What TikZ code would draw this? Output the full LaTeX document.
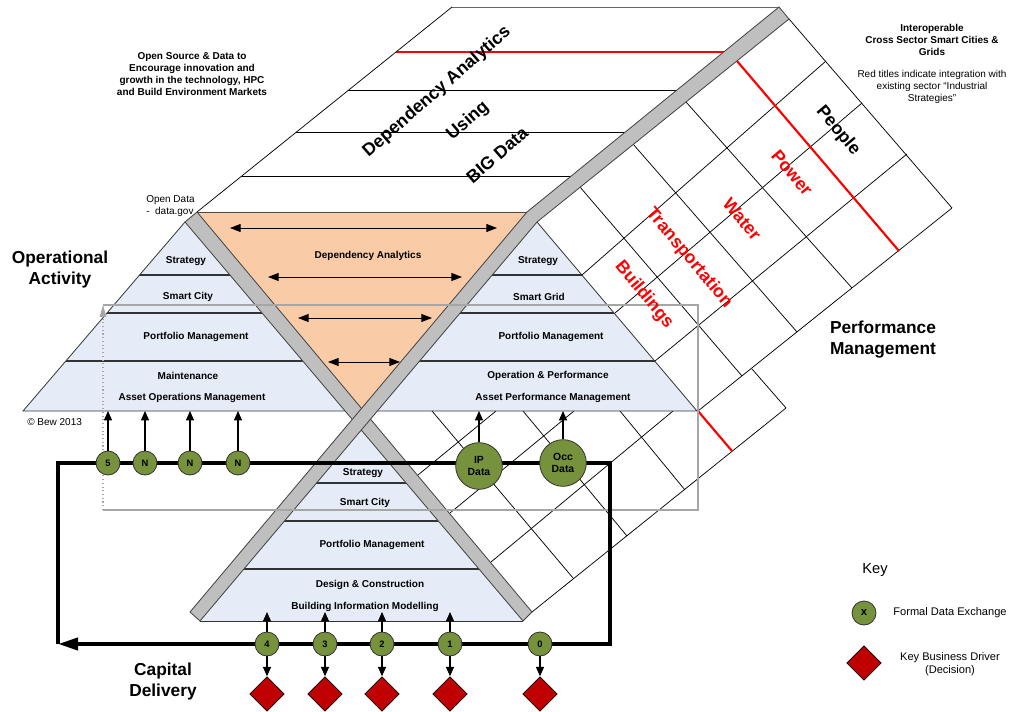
\documentclass[tikz,border=0pt]{standalone}
\usepackage{fontspec}
\setmainfont{Liberation Sans}
\usetikzlibrary{arrows.meta,shapes.geometric}
\definecolor{pyr}{HTML}{E5ECF7}
\definecolor{orng}{HTML}{F9CBA6}
\definecolor{olivec}{HTML}{76923C}
\definecolor{diamred}{HTML}{C00000}
\definecolor{bandgray}{HTML}{BFBFBF}
\definecolor{rectgray}{HTML}{A6A6A6}
\definecolor{redc}{HTML}{FF0000}
\begin{document}
\begin{tikzpicture}[x=0.75pt,y=-0.75pt,
 gl/.style={line width=0.55pt, black},
 redl/.style={line width=1.6pt, redc},
 div/.style={line width=0.8pt, black!80},
 pout/.style={line width=0.6pt, black!80},
 band/.style={fill=bandgray, draw=black!75, line width=0.6pt},
 lab/.style={font=\bfseries\fontsize{7.5}{9}\selectfont, inner sep=0pt},
 bigtxt/.style={font=\bfseries\fontsize{13}{15.75}\selectfont, align=center},
 rot/.style={font=\bfseries\fontsize{13.3}{16}\selectfont, inner sep=0pt},
 smallb/.style={font=\bfseries\fontsize{7.5}{8.8}\selectfont, align=center},
 smallr/.style={font=\fontsize{7.5}{8.8}\selectfont, align=center},
 dxc/.style={circle, fill=olivec, draw=black!80, line width=0.6pt, minimum size=18pt, inner sep=0pt, font=\bfseries\fontsize{7}{8}\selectfont},
 bigdxc/.style={dxc, minimum size=35pt, font=\bfseries\fontsize{7.8}{9}\selectfont, align=center},
 dia/.style={diamond, fill=diamred, draw=black, line width=0.6pt, minimum width=26pt, minimum height=26pt, inner sep=0pt},
 arr/.style={line width=0.9pt, -{Triangle[length=7pt,width=6pt]}},
 darr/.style={line width=0.7pt, {Triangle[length=8pt,width=6pt]}-{Triangle[length=8pt,width=6pt]}},
 loopln/.style={line width=3pt, line join=miter},
 rectg/.style={draw=rectgray, line width=0.8pt}]
\useasboundingbox (0,0) rectangle (1013,712);

% ---------- top parallelogram (Big Data) ----------
\fill[white] (452,7) -- (779,7) -- (527,212) -- (197,212) -- cycle;
\begin{scope}
\clip (452,7) -- (779,7) -- (527,212) -- (197,212) -- cycle;
\draw[gl] (150,90) -- (800,90);
\draw[gl] (150,132) -- (800,132);
\draw[gl] (150,176) -- (800,176);
\draw[redl] (150,52) -- (800,52);
\end{scope}
\draw[line width=0.6pt, black!60] (452,7) -- (779,7);
\draw[gl] (452,7) -- (197,212);

% ---------- grid (performance management) ----------
\draw[gl] (789,19) -- (952,208);
\draw[gl] (582,275) -- (826,61);
\draw[gl] (615,313) -- (862,103);
\draw[gl] (655,361) -- (907,154);
\draw[gl] (698,411) -- (952,208);
\draw[gl] (686,102) -- (852,288);
\draw[gl] (633,144) -- (797,332);
\draw[gl] (580,187) -- (742,376);
% lower part
\draw[gl] (532,612) -- (786,408);
\draw[gl] (491,562) -- (673,411);
\draw[gl] (450,513) -- (574,411);
\draw[gl] (418,475) -- (496,411);
\draw[gl] (432,411) -- (573,578);
\draw[gl] (523,411) -- (627,536);
\draw[gl] (620,411) -- (685,490);
\draw[gl] (752,369) -- (786,408);
\draw[redl] (737,61) -- (899,251);
\draw[redl] (698,411) -- (732,451);

% ---------- pyramids ----------
\fill[pyr] (185,222) -- (23,411) -- (345,411) -- cycle;
\begin{scope}
\clip (185,222) -- (23,411) -- (345,411) -- cycle;
\draw[div] (0,275) -- (400,275);
\draw[div] (0,313) -- (400,313);
\draw[div] (0,361) -- (400,361);
\end{scope}
\draw[pout] (185,222) -- (23,411) -- (345,411);

\fill[pyr] (537,222) -- (377,411) -- (697,411) -- cycle;
\begin{scope}
\clip (537,222) -- (377,411) -- (697,411) -- cycle;
\draw[div] (350,275) -- (720,275);
\draw[div] (350,313) -- (720,313);
\draw[div] (350,361) -- (720,361);
\end{scope}
\draw[pout] (537,222) -- (697,411) -- (377,411);

\fill[pyr] (361,430) -- (200,621) -- (523,621) -- cycle;
\begin{scope}
\clip (361,430) -- (200,621) -- (523,621) -- cycle;
\draw[div] (180,483) -- (540,483);
\draw[div] (180,521) -- (540,521);
\draw[div] (180,569) -- (540,569);
\end{scope}
\draw[pout] (200,621) -- (523,621);

% ---------- orange triangle ----------
\fill[orng] (197,212) -- (527,212) -- (362,409) -- cycle;
\draw[line width=0.6pt, black!70] (197,212) -- (527,212);
\coordinate (oa1) at (230,228); \coordinate (ob1) at (497,228);
\coordinate (oa2) at (268,277); \coordinate (ob2) at (462,277);
\coordinate (oa3) at (298,318); \coordinate (ob3) at (432,318);
\coordinate (oa4) at (328,362); \coordinate (ob4) at (400,362);
\draw[darr] (oa1) -- (ob1);
\draw[darr] (oa2) -- (ob2);
\draw[darr] (oa3) -- (ob3);
\draw[darr] (oa4) -- (ob4);

% ---------- gray bands ----------
\draw[band] (185,222) -- (197,212) -- (532,612) -- (523,621) -- cycle;
\draw[band] (779,7) -- (789,19) -- (537,222) -- (200,621) -- (190,612) -- (527,212) -- cycle;

% ---------- pyramid labels ----------
\node[lab] (lstr) at (186,261) {Strategy};
\node[lab] (lsc) at (188,297) {Smart City};
\node[lab] (lpm) at (196,337) {Portfolio Management};
\node[lab] (lmt) at (188,376) {Maintenance};
\node[lab] (laom) at (192,398) {Asset Operations Management};
\node[lab] (rstr) at (538,261) {Strategy};
\node[lab] (rsg) at (539,297) {Smart Grid};
\node[lab] (rpm) at (551,337) {Portfolio Management};
\node[lab] (rop) at (548,376) {Operation \& Performance};
\node[lab] (rapm) at (553,398) {Asset Performance Management};
\node[lab] (bstr) at (363,473) {Strategy};
\node[lab] (bsc) at (365,503) {Smart City};
\node[lab] (bpm) at (372,545) {Portfolio Management};
\node[lab] (bdc) at (370,585) {Design \& Construction};
\node[lab] (bbim) at (365,607) {Building Information Modelling};
\node[lab] (depa) at (368,256) {Dependency Analytics};

% ---------- thin gray rectangle ----------
\draw[rectg] (103,305) -- (698,305) -- (698,510) -- (103,510);
\draw[rectg, dotted, -{Triangle[length=9pt,width=5pt,fill=rectgray]}] (103,510) -- (103,305);

% ---------- loop ----------
\draw[loopln, -{Triangle[length=15pt,width=9pt]}] (58,644) -- (58,463) -- (610,463) -- (610,644) -- (58,644);

% ---------- circles ----------
\coordinate (pyrbase) at (0,411);
\coordinate (lowbase) at (0,612);
\node[dxc] (c5) at (108,463) {5};
\node[dxc] (cn1) at (145,463) {N};
\node[dxc] (cn2) at (190,463) {N};
\node[dxc] (cn3) at (238,463) {N};
\node[bigdxc] (ip) at (479,466) {IP\\Data};
\node[bigdxc] (occ) at (563,463) {Occ\\Data};
\foreach \n in {c5,cn1,cn2,cn3,ip,occ} \draw[arr] (\n.north) -- (\n |- pyrbase);

\node[dxc] (b4) at (267,644) {4};
\node[dxc] (b3) at (325,644) {3};
\node[dxc] (b2) at (382,644) {2};
\node[dxc] (b1) at (450,644) {1};
\node[dxc] (b0) at (540,644) {0};
\foreach \n in {b4,b3,b2,b1} \draw[arr] (\n.north) -- (\n |- lowbase);
\node[dia] (d4) at (267,694) {};
\node[dia] (d3) at (325,694) {};
\node[dia] (d2) at (382,694) {};
\node[dia] (d1) at (450,694) {};
\node[dia] (d0) at (540,694) {};
\foreach \n in {4,3,2,1,0} \draw[arr] (b\n.south) -- (d\n.north);

% ---------- rotated texts ----------
\node[rot, rotate=41] (tdep) at (437,92) {Dependency Analytics};
\node[rot, rotate=41] (tusing) at (468,121) {Using};
\node[rot, rotate=41] (tbig) at (497,155) {BIG Data};
\node[rot, rotate=-50] (tpeople) at (838,131) {People};
\node[rot, rotate=-50, text=redc] (tpower) at (792,173) {Power};
\node[rot, rotate=-50, text=redc] (twater) at (742,219) {Water};
\node[rot, rotate=-50, text=redc] (ttrans) at (689,258) {Transportation};
\node[rot, rotate=-50, text=redc] (tbuild) at (644,295) {Buildings};

% ---------- other texts ----------
\node[smallb] (hdr1) at (192,74) {Open Source \& Data to\\Encourage innovation and\\growth in the technology, HPC\\and Build Environment Markets};
\node[smallb] (hdr2) at (932,40) {Interoperable\\Cross Sector Smart Cities \&\\Grids};
\node[smallr] (hdr3) at (932,87) {Red titles indicate integration with\\existing sector “Industrial\\Strategies”};
\node[smallr, align=left, anchor=west, inner sep=0pt] (odata) at (146,206) {Open Data\\-~~data.gov};
\node[bigtxt] (opact) at (60,270) {Operational\\Activity};
\node[smallr, anchor=west, inner sep=0pt] (copy) at (27,422) {© Bew 2013};
\node[bigtxt] (perfm) at (883,340) {Performance\\Management};
\node[bigtxt] (capd) at (163,682) {Capital\\Delivery};

% ---------- key ----------
\node[font=\fontsize{11}{13}\selectfont] (keyt) at (875,570) {Key};
\node[dxc, font=\bfseries\fontsize{8.5}{9}\selectfont] (kx) at (864,613) {x};
\node[font=\fontsize{8.3}{10}\selectfont] (kxt) at (950,613) {Formal Data Exchange};
\node[dia] (kd) at (864,663) {};
\node[font=\fontsize{8.3}{10}\selectfont, align=center] (kdt) at (950,664) {Key Business Driver\\(Decision)};
\end{tikzpicture}
\end{document}
